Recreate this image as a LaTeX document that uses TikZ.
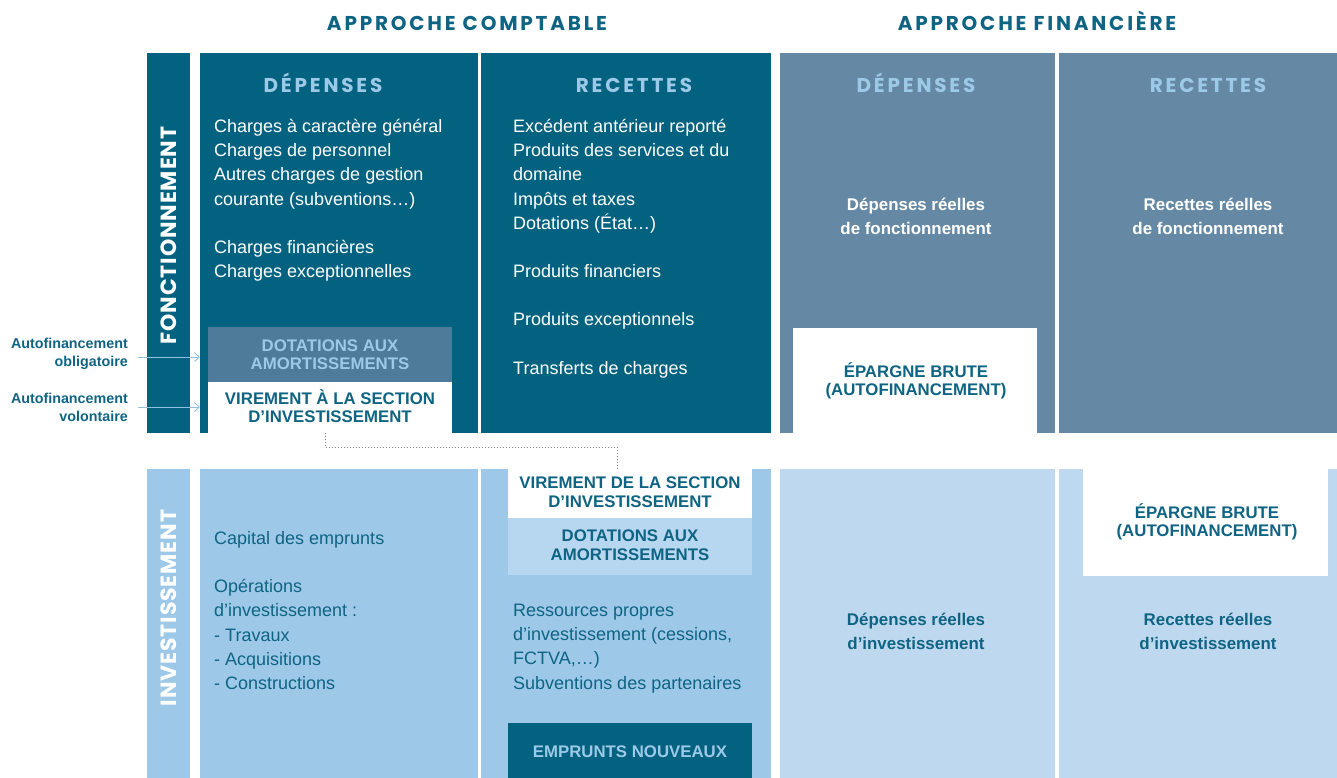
\documentclass[tikz,border=0pt]{standalone}
\usepackage{fontspec}
\setmainfont{Liberation Sans}
\newfontfamily\headfont[LetterSpace=14]{Poppins}
\newfontfamily\sidefont[LetterSpace=4]{Poppins}
\usetikzlibrary{arrows.meta}
\definecolor{dteal}{HTML}{03627F}
\definecolor{gblue}{HTML}{6589A4}
\definecolor{dotb}{HTML}{4E7B99}
\definecolor{lblue}{HTML}{9CC9E8}
\definecolor{ltblue}{HTML}{9DC8E8}
\definecolor{pblue}{HTML}{BED9EF}
\definecolor{dotp}{HTML}{B7D7F0}
\definecolor{txt}{HTML}{0F6483}
\definecolor{arr}{HTML}{8FC1E3}
\tikzset{
  box/.style={anchor=north west,inner sep=0pt,outer sep=0pt,draw=none},
  body/.style={anchor=north west,inner sep=0pt,align=left,font=\fontsize{18}{24.2}\selectfont},
  bold/.style={inner sep=0pt,align=center,font=\fontsize{16.8}{18.5}\selectfont\bfseries},
  sub/.style={inner sep=0pt,align=center,font=\fontsize{16.9}{24}\selectfont\bfseries},
  colhead/.style={inner sep=0pt,anchor=base,text=lblue,font=\headfont\fontsize{20}{22}\selectfont\bfseries},
  bighead/.style={inner sep=0pt,anchor=base,text=txt,font=\headfont\fontsize{20}{22}\selectfont\bfseries},
  side/.style={inner sep=0pt,text=white,rotate=90,font=\sidefont\fontsize{22}{24}\selectfont\bfseries},
  lab/.style={inner sep=0pt,align=right,text=txt,font=\fontsize{14.3}{18}\selectfont\bfseries},
  arrow/.style={draw=arr,line width=0.9pt,-{Straight Barb[length=5pt,width=9pt]}},
  link/.style={draw=gray,line width=1pt,dotted}
}
\begin{document}
\begin{tikzpicture}[x=1pt,y=-1pt]
\useasboundingbox (0,0) rectangle (1337,778);
% main blocks
\node[box,fill=dteal,minimum width=43,minimum height=380] (fbar) at (147,53) {};
\node[box,fill=dteal,minimum width=278,minimum height=380] (fdep) at (200,53) {};
\node[box,fill=dteal,minimum width=290,minimum height=380] (frec) at (481,53) {};
\node[box,fill=gblue,minimum width=275,minimum height=380] (ffdep) at (780,53) {};
\node[box,fill=gblue,minimum width=278,minimum height=380] (ffrec) at (1059,53) {};
\node[box,fill=ltblue,minimum width=43,minimum height=309] (ibar) at (147,469) {};
\node[box,fill=ltblue,minimum width=278,minimum height=309] (idep) at (200,469) {};
\node[box,fill=ltblue,minimum width=290,minimum height=309] (irec) at (481,469) {};
\node[box,fill=pblue,minimum width=275,minimum height=309] (ifdep) at (780,469) {};
\node[box,fill=pblue,minimum width=278,minimum height=309] (ifrec) at (1059,469) {};
% inner boxes
\node[box,fill=dotb,minimum width=244,minimum height=55] (dot1) at (208,327) {};
\node[box,fill=white,minimum width=244,minimum height=51] (vir1) at (208,382) {};
\node[box,fill=white,minimum width=244,minimum height=105] (ep1) at (793,328) {};
\node[box,fill=white,minimum width=244,minimum height=49] (vir2) at (508,469) {};
\node[box,fill=dotp,minimum width=244,minimum height=57] (dot2) at (508,518) {};
\node[box,fill=dteal,minimum width=244,minimum height=55] (emp) at (508,723) {};
\node[box,fill=white,minimum width=245,minimum height=107] (ep2) at (1083,469) {};
% headers
\node[bighead] (hc) at (467,30.5) {APPROCHE COMPTABLE};
\node[bighead] (hf) at (1037,30.5) {APPROCHE FINANCIÈRE};
\node[colhead] (h1) at (323,92.5) {DÉPENSES};
\node[colhead] (h2) at (634,92.5) {RECETTES};
\node[colhead] (h3) at (916,92.5) {DÉPENSES};
\node[colhead] (h4) at (1208,92.5) {RECETTES};
\node[side] (sf) at (fbar.center |- 0,235.5) {FONCTIONNEMENT};
\node[side] (si) at (ibar.center |- 0,608) {INVESTISSEMENT};
% body texts
\node[body,text=white] (t1) at (214,119) {Charges à caractère général\\Charges de personnel\\Autres charges de gestion\\courante (subventions…)\\[24.2pt]Charges financières\\Charges exceptionnelles};
\node[body,text=white] (t2) at (513,119) {Excédent antérieur reporté\\Produits des services et du\\domaine\\Impôts et taxes\\Dotations (État…)};
\node[body,text=white] (t3) at (513,264.5) {Produits financiers};
\node[body,text=white] (t4) at (513,312.5) {Produits exceptionnels};
\node[body,text=white] (t5) at (513,361.5) {Transferts de charges};
\node[sub,text=white] (t6) at (916,216) {Dépenses réelles\\de fonctionnement};
\node[sub,text=white] (t7) at (1208,216) {Recettes réelles\\de fonctionnement};
\node[bold,text=lblue] (t8) at (dot1.center) {DOTATIONS AUX\\AMORTISSEMENTS};
\node[bold,text=txt] (t9) at (330,406) {VIREMENT À LA SECTION\\D’INVESTISSEMENT};
\node[bold,text=txt] (t10) at (916,381) {ÉPARGNE BRUTE\\(AUTOFINANCEMENT)};
\node[body,text=txt] (t11) at (214,531) {Capital des emprunts\\[24.2pt]Opérations\\d’investissement :\\- Travaux\\- Acquisitions\\- Constructions};
\node[body,text=txt] (t12) at (513,604) {Ressources propres\\d’investissement (cessions,\\FCTVA,…)\\Subventions des partenaires};
\node[bold,text=txt] (t13) at (630,492) {VIREMENT DE LA SECTION\\D’INVESTISSEMENT};
\node[bold,text=txt] (t14) at (630,545) {DOTATIONS AUX\\AMORTISSEMENTS};
\node[bold,text=lblue] (t15) at ([yshift=-1.5pt]emp.center) {EMPRUNTS NOUVEAUX};
\node[sub,text=txt] (t16) at (916,631) {Dépenses réelles\\d’investissement};
\node[sub,text=txt] (t17) at (1208,631) {Recettes réelles\\d’investissement};
\node[bold,text=txt] (t18) at (1207,522) {ÉPARGNE BRUTE\\(AUTOFINANCEMENT)};
% left labels and arrows
\node[lab,anchor=east] (l1) at (128,354) {Autofinancement\\obligatoire};
\node[lab,anchor=east] (l2) at (128,407) {Autofinancement\\volontaire};
\coordinate (a1) at (138,357);
\coordinate (a2) at (138,407);
\draw[arrow] (a1) -- (fdep.west |- a1);
\draw[arrow] (a2) -- (fdep.west |- a2);
% dotted link
\draw[link] (vir1.south -| 325,0) -- (325,447) -- (617,447) -- (vir2.north -| 617,0);
\end{tikzpicture}
\end{document}
